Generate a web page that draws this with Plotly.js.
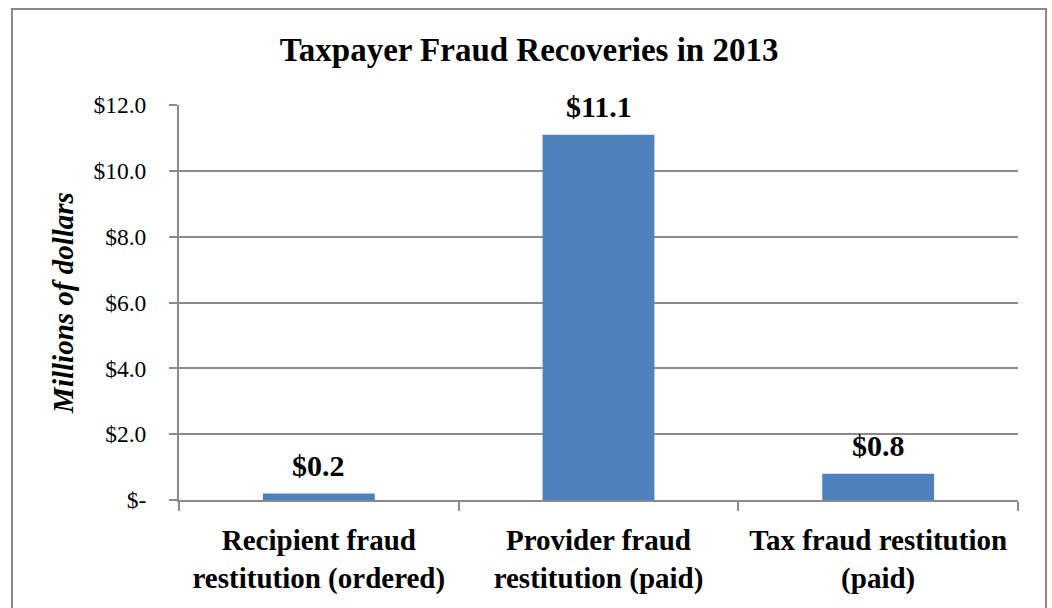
<!DOCTYPE html>
<html>
<head>
<meta charset="utf-8">
<script src="https://cdn.plot.ly/plotly-3.0.1.min.js"></script>
<style>
  html, body { margin: 0; padding: 0; background: #ffffff; }
  #wrap { position: relative; width: 1052px; height: 608px; overflow: hidden; }
  #chart { position: absolute; left: 0; top: 0; width: 1052px; height: 608px; }
  #frame { position: absolute; left: 11px; top: 8px; width: 1032px; height: 640px;
           border: 2px solid #8a8a8a; pointer-events: none; }
</style>
</head>
<body>
<div id="wrap">
  <div id="chart"></div>
  <div id="frame"></div>
</div>
<script>
const categories = [
  "Recipient fraud<br>restitution (ordered)",
  "Provider fraud<br>restitution (paid)",
  "Tax fraud restitution<br>(paid)"
];
const values = [0.2, 11.1, 0.8];
const valueLabels = ["$0.2", "$11.1", "$0.8"];
const tickVals = [0, 2, 4, 6, 8, 10, 12];
const tickText = ["$-", "$2.0", "$4.0", "$6.0", "$8.0", "$10.0", "$12.0"];

const serif = "Liberation Serif, Times New Roman, serif";

const trace = {
  type: "bar",
  x: categories,
  y: values,
  marker: { color: "#4F81BD", line: { color: "#4F81BD", width: 0 } },
  width: 0.4,
  hoverinfo: "none"
};

const annotations = categories.map((c, i) => ({
  x: c, y: values[i], xref: "x", yref: "y",
  text: valueLabels[i], showarrow: false,
  yanchor: "middle", yshift: 28,
  font: { family: serif, size: 30, color: "#000", weight: "bold" }
}));

const layout = {
  width: 1052, height: 608,
  margin: { l: 179, r: 34, t: 105, b: 108 },
  paper_bgcolor: "#ffffff", plot_bgcolor: "#ffffff",
  showlegend: false,
  title: {
    text: "<b>Taxpayer Fraud Recoveries in 2013</b>",
    font: { family: serif, size: 33, color: "#000" },
    x: 0.503, xanchor: "center", xref: "container",
    y: 0.918, yanchor: "middle", yref: "container"
  },
  xaxis: {
    type: "category",
    showline: true, linecolor: "#8a8a8a", linewidth: 2,
    ticks: "outside", tickson: "boundaries", ticklen: 9, tickcolor: "#8a8a8a", tickwidth: 2,
    showgrid: false, zeroline: false,
    tickfont: { family: serif, size: 29, color: "#000", weight: "bold" },
    ticklabelstandoff: 13
  },
  yaxis: {
    range: [0, 12], autorange: false,
    tickvals: tickVals, ticktext: tickText,
    showline: true, linecolor: "#8a8a8a", linewidth: 2,
    ticks: "outside", ticklen: 8, tickcolor: "#8a8a8a", tickwidth: 2,
    showgrid: true, gridcolor: "#8a8a8a", gridwidth: 2,
    zeroline: false,
    tickfont: { family: serif, size: 23.5, color: "#000" },
    ticklabelstandoff: 18,
    title: {
      text: "<b><i>Millions of dollars</i></b>",
      font: { family: serif, size: 29, color: "#000" },
      standoff: 11
    }
  },
  annotations: annotations
};

Plotly.newPlot("chart", [trace], layout, { staticPlot: true, displayModeBar: false });
</script>
</body>
</html>
